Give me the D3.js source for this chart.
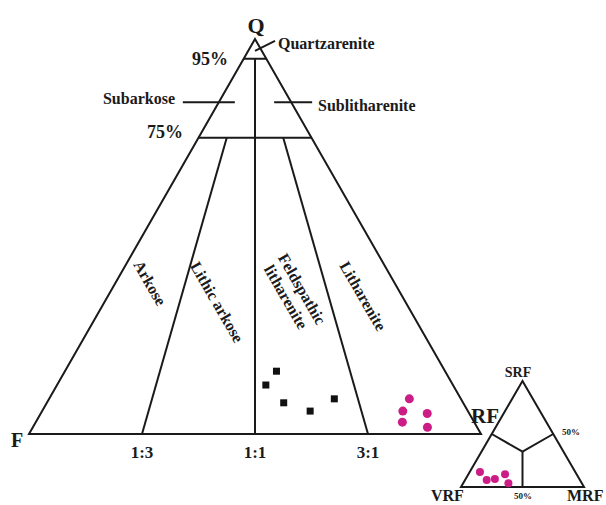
<!DOCTYPE html>
<html>
<head>
<meta charset="utf-8">
<script src="https://cdn.jsdelivr.net/npm/d3@7"></script>
<style>
  body { margin: 0; background: #fff; }
  svg text { font-family: "Liberation Serif", "Times New Roman", serif; font-weight: bold; fill: #1a1a1a; }
  .edge { fill: none; stroke: #1a1a1a; stroke-width: 2; }
</style>
</head>
<body>
<svg width="606" height="505"></svg>
<script>
// QFR diagram data (percent)
var squareQ = [15.9, 12.4, 7.9, 5.8, 8.9];
var squareF = [37.3, 41.4, 39.7, 34.9, 28.0];
var squareRF = [46.8, 46.2, 52.4, 59.3, 63.1];

var dotQ = [8.9, 5.8, 3.0, 5.2, 1.7];
var dotF = [11.4, 14.4, 15.9, 9.3, 11.0];
var dotRF = [79.7, 79.8, 81.1, 85.5, 87.3];

// field boundaries
var qLevels = [95, 75];
var ratioValues = [25, 50, 75]; // RF / (F + RF)
var ratioTop = [75, 95, 75]; // Q where each ratio line starts
var ratioLabels = ["1:3", "1:1", "3:1"];

// rock fragment inset (percent)
var vrf = [77.5, 75.8, 68.7, 58.2, 59.7];
var srf = [14.2, 6.6, 7.5, 12.0, 3.5];
var mrf = [8.3, 17.6, 23.8, 29.8, 36.8];

var svg = d3.select("svg");
var pink = "#cc1d86";

// main triangle scales
var x = d3.scaleLinear().domain([0, 100]).range([29, 481]),
    y = d3.scaleLinear().domain([0, 100]).range([434, 39]);

function proj(q, f, rf) {
    return [x(rf + q / 2), y(q)];
}

var line = d3.line();

svg.append("path")
    .attr("class", "edge")
    .attr("d", line([proj(100, 0, 0), proj(0, 100, 0), proj(0, 0, 100)]) + "Z");

// horizontal Q lines
qLevels.forEach(function (q) {
    svg.append("path")
        .attr("class", "edge")
        .attr("d", line([proj(q, 100 - q, 0), proj(q, 0, 100 - q)]));
});

// ratio lines
ratioValues.forEach(function (r, i) {
    var q = ratioTop[i];
    svg.append("path")
        .attr("class", "edge")
        .attr("d", line([proj(q, (100 - q) * (100 - r) / 100, (100 - q) * r / 100), proj(0, 100 - r, r)]));
    svg.append("text")
        .attr("x", x(r))
        .attr("y", 458)
        .attr("text-anchor", "middle")
        .style("font-size", "17px")
        .text(ratioLabels[i]);
});

// subarkose / sublitharenite leader ticks
var left84 = proj(84, 16, 0), right84 = proj(84, 0, 16);
svg.append("path").attr("class", "edge")
    .attr("d", line([[left84[0] - 36, left84[1]], [left84[0] + 16, left84[1]]]));
svg.append("path").attr("class", "edge")
    .attr("d", line([[right84[0] - 17, right84[1]], [right84[0] + 21, right84[1]]]));

// quartzarenite leader
var qa = proj(98, 1, 1);
svg.append("path").attr("class", "edge")
    .attr("d", line([[qa[0], qa[1] + 4], [qa[0] + 20, qa[1] - 6]]));

function label(t, px, py, size, anchor, rot) {
    var el = svg.append("text")
        .attr("text-anchor", anchor || "start")
        .style("font-size", size + "px")
        .text(t);
    if (rot) {
        el.attr("dominant-baseline", "central")
            .attr("transform", "translate(" + px + "," + py + ") rotate(" + rot + ")");
    } else {
        el.attr("x", px).attr("y", py);
    }
    return el;
}

label("Q", 256, 33, 22, "middle");
label("F", 11, 447, 20);
label("RF", 471, 423, 21);
label("95%", 228, 65, 18, "end");
label("75%", 183, 138, 18, "end");
label("Quartzarenite", 278, 49, 16);
label("Subarkose", 175, 104, 16, "end");
label("Sublitharenite", 318, 111, 16);

label("Arkose", 150, 283, 16, "middle", 60);
label("Lithic arkose", 217, 302, 16, "middle", 60);
label("Feldspathic", 302, 289, 16, "middle", 60);
label("litharenite", 286, 297, 16, "middle", 60);
label("Litharenite", 363, 296, 16, "middle", 60);

// sample points
svg.selectAll(".sq")
    .data(squareQ)
    .enter().append("rect")
    .attr("class", "sq")
    .attr("width", 7)
    .attr("height", 7)
    .attr("x", function (d, i) { return proj(d, squareF[i], squareRF[i])[0] - 3.5; })
    .attr("y", function (d, i) { return proj(d, squareF[i], squareRF[i])[1] - 3.5; })
    .attr("fill", "#111");

svg.selectAll(".dot")
    .data(dotQ)
    .enter().append("circle")
    .attr("class", "dot")
    .attr("r", 4.5)
    .attr("cx", function (d, i) { return proj(d, dotF[i], dotRF[i])[0]; })
    .attr("cy", function (d, i) { return proj(d, dotF[i], dotRF[i])[1]; })
    .attr("fill", pink);

// inset triangle VRF - SRF - MRF
var xi = d3.scaleLinear().domain([0, 100]).range([461, 584]),
    yi = d3.scaleLinear().domain([0, 100]).range([487, 381]);

function projI(v, s, m) {
    return [xi(m + s / 2), yi(s)];
}

svg.append("path")
    .attr("class", "edge")
    .attr("d", line([projI(0, 100, 0), projI(100, 0, 0), projI(0, 0, 100)]) + "Z");

var centre = projI(100 / 3, 100 / 3, 100 / 3);
[[50, 50, 0], [0, 50, 50], [50, 0, 50]].forEach(function (p) {
    svg.append("path")
        .attr("class", "edge")
        .attr("d", line([centre, projI(p[0], p[1], p[2])]));
});

svg.selectAll(".idot")
    .data(vrf)
    .enter().append("circle")
    .attr("class", "idot")
    .attr("r", 4)
    .attr("cx", function (d, i) { return projI(d, srf[i], mrf[i])[0]; })
    .attr("cy", function (d, i) { return projI(d, srf[i], mrf[i])[1]; })
    .attr("fill", pink);

label("SRF", 518, 377, 14, "middle");
label("VRF", 431, 501, 16);
label("MRF", 567, 501, 16);
label("50%", 562, 435, 9);
label("50%", 514, 499, 9);
</script>
</body>
</html>
